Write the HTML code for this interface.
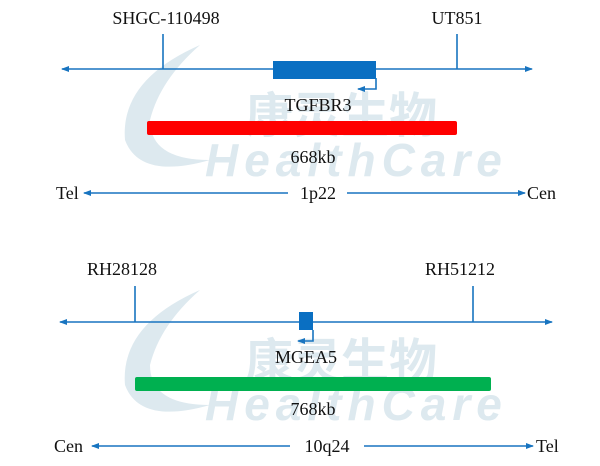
<!DOCTYPE html>
<html><head><meta charset="utf-8"><style>
body{margin:0;background:#fff;}
svg{display:block;}
text{font-family:"Liberation Serif",serif;font-size:18px;fill:#111;}
</style></head><body>
<svg width="600" height="466" viewBox="0 0 600 466">
<defs>
<marker id="a" markerWidth="8" markerHeight="8" refX="7" refY="4" orient="auto-start-reverse" markerUnits="userSpaceOnUse"><path d="M0,1 L8,4 L0,7Z" fill="#1874c0"/></marker>
</defs>
<g fill="#dde9ef">
<text style="font-family:'Liberation Sans',sans-serif;font-style:italic;font-weight:bold;font-size:46px;fill:#dde9ef;letter-spacing:6px" x="205" y="176">HealthCare</text>
<text style="font-family:'Liberation Sans',sans-serif;font-style:italic;font-weight:bold;font-size:46px;fill:#dde9ef;letter-spacing:6px" x="205" y="420">HealthCare</text>
<text style="font-family:'Noto Sans CJK SC',sans-serif;font-weight:bold;font-size:48px;fill:#dde9ef" x="245" y="132">康灵生物</text>
<text style="font-family:'Noto Sans CJK SC',sans-serif;font-weight:bold;font-size:48px;fill:#dde9ef" x="245" y="378">康灵生物</text>
<path d="M200 45 Q120 80 125 140 Q140 180 210 160 Q150 160 150 120 Q160 80 200 45Z"/>
<path d="M200 290 Q120 325 125 385 Q140 425 210 405 Q150 405 150 365 Q160 325 200 290Z"/>
</g>
<g stroke="#1874c0" stroke-width="1.6" fill="none">
<line x1="62" y1="69" x2="532" y2="69" marker-start="url(#a)" marker-end="url(#a)"/>
<line x1="163" y1="34" x2="163" y2="69"/>
<line x1="457" y1="34" x2="457" y2="69"/>
<polyline points="376,78 376,89 358,89" marker-end="url(#a)"/>
<line x1="84" y1="193" x2="288" y2="193" marker-start="url(#a)"/>
<line x1="347" y1="193" x2="525" y2="193" marker-end="url(#a)"/>
<line x1="60" y1="322" x2="552" y2="322" marker-start="url(#a)" marker-end="url(#a)"/>
<line x1="135" y1="286" x2="135" y2="322"/>
<line x1="473" y1="286" x2="473" y2="322"/>
<polyline points="313,330 313,341 298,341" marker-end="url(#a)"/>
<line x1="92" y1="446" x2="290" y2="446" marker-start="url(#a)"/>
<line x1="364" y1="446" x2="533" y2="446" marker-end="url(#a)"/>
</g>
<rect x="273" y="61" width="103" height="18" fill="#0a6fc2"/>
<rect x="147" y="121" width="310" height="14" rx="2" fill="#ff0000"/>
<rect x="299" y="312" width="14" height="18" fill="#0a6fc2"/>
<rect x="135" y="377" width="356" height="14" rx="2" fill="#00b050"/>
<text x="166" y="24" text-anchor="middle">SHGC-110498</text>
<text x="457" y="24" text-anchor="middle">UT851</text>
<text x="318" y="111" text-anchor="middle">TGFBR3</text>
<text x="313" y="163" text-anchor="middle">668kb</text>
<text x="56" y="199">Tel</text>
<text x="318" y="199" text-anchor="middle">1p22</text>
<text x="527" y="199">Cen</text>
<text x="122" y="275" text-anchor="middle">RH28128</text>
<text x="460" y="275" text-anchor="middle">RH51212</text>
<text x="306" y="363" text-anchor="middle">MGEA5</text>
<text x="313" y="415" text-anchor="middle">768kb</text>
<text x="54" y="452">Cen</text>
<text x="327" y="452" text-anchor="middle">10q24</text>
<text x="536" y="452">Tel</text>
</svg>
</body></html>
